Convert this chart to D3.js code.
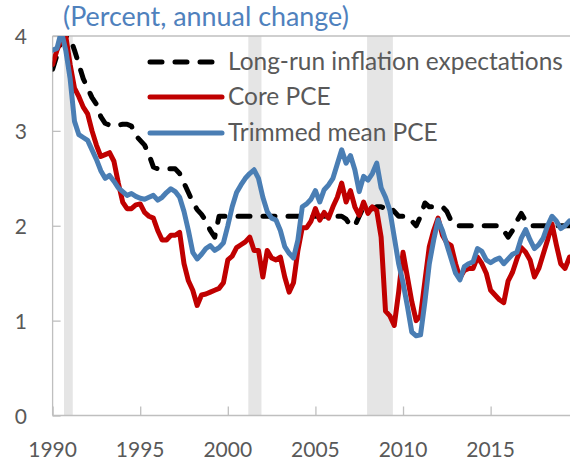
<!DOCTYPE html>
<html><head><meta charset="utf-8">
<script src="https://cdn.jsdelivr.net/npm/d3@7"></script>
<style>body{margin:0;background:#fff} svg{display:block}</style>
</head><body><svg id="c" width="570" height="464"></svg>
<script>
const titleText = "(Percent, annual change)";
const seriesNames = ["Long-run inflation expectations", "Core PCE", "Trimmed mean PCE"];
const xTickYears = [1990, 1995, 2000, 2005, 2010, 2015];
const yTicks = [0, 1, 2, 3, 4];
const recessions = [[1990.65, 1991.15], [2001.17, 2001.92], [2007.95, 2009.42]];
const startYear = 1990; // quarterly observations, 1990Q1 onward

const longRun = [
  3.65, 3.80, 3.95, 4.00,  3.98, 3.85, 3.70, 3.55,  3.45, 3.35, 3.28, 3.15,  3.08, 3.06, 3.05, 3.06,
  3.07, 3.07, 3.05, 2.95,  2.90, 2.85, 2.75, 2.62,  2.60, 2.60, 2.60, 2.60,  2.60, 2.55, 2.45, 2.35,
  2.25, 2.17, 2.12, 2.05,  1.95, 1.88, 2.10, 2.10,  2.10, 2.10, 2.10, 2.10,  2.10, 2.10, 2.10, 2.10,
  2.10, 2.10, 2.10, 2.10,  2.10, 2.10, 2.10, 2.10,  2.10, 2.10, 2.10, 2.10,  2.10, 2.10, 2.10, 2.10,
  2.10, 2.10, 2.10, 2.07,  2.00, 2.00, 2.10, 2.20,  2.20, 2.18, 2.20, 2.20,  2.18, 2.20, 2.15, 2.10,
  2.10, 2.10, 2.05, 2.00,  2.10, 2.24, 2.20, 2.20,  2.20, 2.20, 2.15, 2.05,  2.00, 2.00, 2.00, 2.00,
  2.00, 2.00, 2.00, 2.00,  2.00, 2.00, 2.00, 1.95,  1.88, 1.95, 2.05, 2.13,  2.05, 2.00, 2.00, 2.00,
  2.00, 2.00, 2.00, 2.00,  2.00, 2.00, 2.00
];
const corePCE = [
  3.70, 3.85, 3.96, 4.00,  3.70, 3.45, 3.36, 3.25,  3.18, 3.00, 2.85, 2.73,  2.75, 2.77, 2.68, 2.45,
  2.25, 2.18, 2.18, 2.22,  2.23, 2.14, 2.10, 2.08,  1.95, 1.85, 1.85, 1.90,  1.90, 1.93, 1.60, 1.42,
  1.32, 1.16, 1.27, 1.28,  1.30, 1.32, 1.34, 1.40,  1.64, 1.68, 1.77, 1.80,  1.83, 1.88, 1.74, 1.74,
  1.46, 1.74, 1.66, 1.64,  1.67, 1.46, 1.30, 1.40,  1.74, 1.98, 1.98, 2.05,  2.18, 2.06, 2.14, 2.08,
  2.20, 2.30, 2.45, 2.25,  2.37, 2.20, 2.11, 2.25,  2.13, 2.20, 2.16, 1.88,  1.10, 1.05, 0.95, 1.30,
  1.72, 1.46, 1.20, 1.00,  1.05, 1.42, 1.78, 1.95,  2.08, 1.90, 1.82, 1.79,  1.60, 1.45, 1.53, 1.55,
  1.55, 1.67, 1.60, 1.50,  1.32, 1.27, 1.22, 1.19,  1.42, 1.51, 1.65, 1.77,  1.72, 1.64, 1.46, 1.55,
  1.70, 1.85, 2.02, 1.80,  1.60, 1.55, 1.67
];
const trimmedPCE = [
  3.85, 3.87, 4.05, 3.85,  3.55, 3.10, 2.96, 2.93,  2.90, 2.80, 2.70, 2.58,  2.50, 2.53, 2.47, 2.40,
  2.36, 2.32, 2.34, 2.31,  2.29, 2.28, 2.30, 2.32,  2.27, 2.30, 2.35, 2.39,  2.36, 2.30, 2.15, 1.95,
  1.72, 1.65, 1.70, 1.76,  1.79, 1.74, 1.77, 1.82,  2.00, 2.20, 2.35, 2.43,  2.50, 2.55, 2.59, 2.50,
  2.30, 2.15, 2.08, 2.06,  1.95, 1.78, 1.71, 1.66,  1.85, 2.20, 2.23, 2.28,  2.37, 2.25, 2.38, 2.43,
  2.50, 2.65, 2.80, 2.66,  2.74, 2.59, 2.36, 2.52,  2.48, 2.55, 2.66, 2.40,  2.30, 2.16, 1.88, 1.60,
  1.40, 1.15, 0.88, 0.84,  0.85, 1.20, 1.60, 1.85,  2.06, 1.95, 1.80, 1.65,  1.50, 1.43, 1.57, 1.60,
  1.62, 1.76, 1.73, 1.64,  1.61, 1.64, 1.66, 1.60,  1.65, 1.70, 1.72, 1.87,  1.96, 1.85, 1.76, 1.80,
  1.87, 2.00, 2.10, 2.05,  1.97, 2.00, 2.05
];

const svg = d3.select("#c");
const plot = {left: 52.6, top: 36, bottom: 415.5, right: 575};
const x = d3.scaleLinear().domain([1990, 2019.53]).range([plot.left, 570]);
const y = d3.scaleLinear().domain([0, 4]).range([plot.bottom, plot.top]);
const gray = "#595959", axisCol = "#BFBFBF";
const font = "Lato, 'Open Sans', sans-serif";

svg.append("defs").append("clipPath").attr("id", "clip")
  .append("rect").attr("x", plot.left).attr("y", plot.top)
  .attr("width", plot.right - plot.left).attr("height", plot.bottom - plot.top);

// recession shading
svg.append("g").selectAll("rect").data(recessions).join("rect")
  .attr("x", d => x(d[0])).attr("width", d => x(d[1]) - x(d[0]))
  .attr("y", plot.top).attr("height", plot.bottom - plot.top)
  .attr("fill", "#E5E5E5");

// frame (top + left) and axes
svg.append("line").attr("x1", plot.left).attr("x2", plot.right).attr("y1", plot.top).attr("y2", plot.top)
  .attr("stroke", axisCol).attr("stroke-width", 1.3);

const yAxis = d3.axisRight(y).tickValues(yTicks).tickSize(8).tickFormat("");
const gy = svg.append("g").attr("transform", `translate(${plot.left},0)`).call(yAxis);
gy.selectAll("path,line").attr("stroke", axisCol).attr("stroke-width", 1.3);
gy.select("path").attr("d", `M0,${plot.top}V${plot.bottom}`);

const xAxis = d3.axisTop(x).tickValues(xTickYears).tickSize(9).tickFormat("");
const gx = svg.append("g").attr("transform", `translate(0,${plot.bottom})`).call(xAxis);
gx.selectAll("path,line").attr("stroke", axisCol).attr("stroke-width", 1.3);
gx.select("path").attr("d", `M${plot.left},0H${plot.right}`);

// tick labels
svg.append("g").selectAll("text").data(yTicks).join("text")
  .attr("x", 27).attr("y", d => y(d) + 8).attr("text-anchor", "end")
  .attr("font-family", font).attr("font-size", 21).attr("fill", gray).text(d => d);
svg.append("g").selectAll("text").data(xTickYears).join("text")
  .attr("x", d => x(d)).attr("y", 457).attr("text-anchor", "middle")
  .attr("font-family", font).attr("font-size", 21).attr("fill", gray).text(d => d);

// series lines
const pts = arr => arr.map((v, i) => [startYear + i / 4, v]);
const line = d3.line().x(d => x(d[0])).y(d => y(d[1]));
const series = [
  {data: longRun, color: "#000000", dash: "12 13"},
  {data: corePCE, color: "#C00000", dash: null},
  {data: trimmedPCE, color: "#4A7EB4", dash: null}
];
const gl = svg.append("g").attr("clip-path", "url(#clip)");
series.forEach(s => {
  gl.append("path").attr("d", line(pts(s.data))).attr("fill", "none")
    .attr("stroke", s.color).attr("stroke-width", 5)
    .attr("stroke-linejoin", "round").attr("stroke-linecap", "round")
    .attr("stroke-dasharray", s.dash);
});

// title
const t = svg.append("text").attr("x", 63).attr("y", 26)
  .attr("font-family", font).attr("font-size", 22)
  .attr("fill", "#4F81BD").text(titleText);
const tl = t.node().getComputedTextLength();
t.attr("font-size", 22 * 286 / tl);

// legend
const legY = [62, 97, 133];
const lg = svg.append("g");
series.forEach((s, i) => {
  lg.append("line").attr("x1", 150).attr("x2", i === 0 ? 215 : 222)
    .attr("y1", legY[i]).attr("y2", legY[i])
    .attr("stroke", s.color).attr("stroke-width", 5).attr("stroke-linecap", "round")
    .attr("stroke-dasharray", s.dash);
});
const legTexts = lg.selectAll("text.l").data(seriesNames).join("text").attr("class", "l")
  .attr("x", 228).attr("y", (d, i) => legY[i] + 7.5)
  .attr("font-family", font).attr("font-size", 22).attr("fill", gray).text(d => d);
const len0 = legTexts.filter((d, i) => i === 0).node().getComputedTextLength();
legTexts.attr("font-size", 22 * 335 / len0);
</script>
</body></html>
